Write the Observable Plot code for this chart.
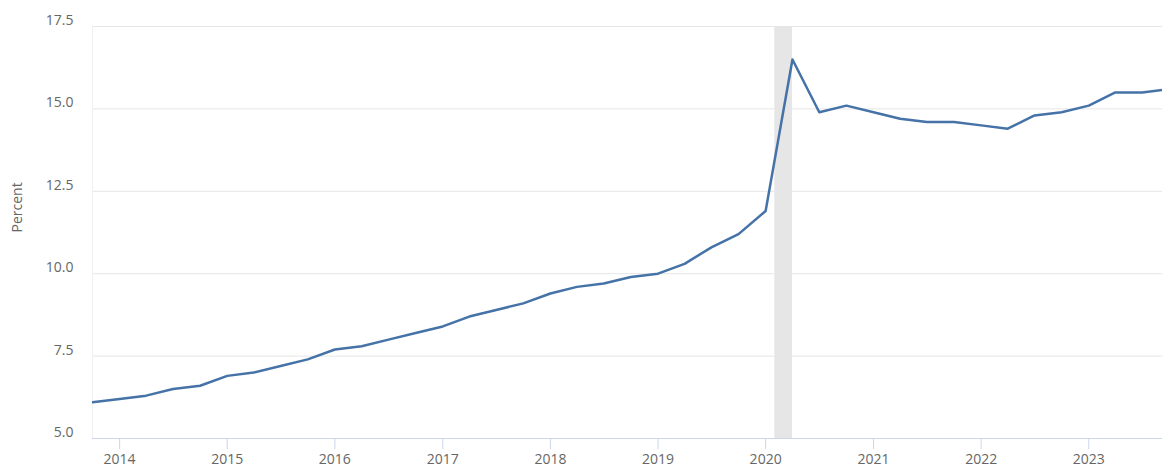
<!DOCTYPE html>
<html>
<head>
<meta charset="utf-8">
<script src="https://cdn.jsdelivr.net/npm/d3@7"></script>
<script src="https://cdn.jsdelivr.net/npm/@observablehq/plot@0.6"></script>
<style>
  html, body { margin: 0; padding: 0; background: #ffffff; }
  #chart svg { display: block; }
</style>
</head>
<body>
<div id="chart"></div>
<script>
// Quarterly observations
const quarters = [
  "2013-10-01",
  "2014-01-01","2014-04-01","2014-07-01","2014-10-01",
  "2015-01-01","2015-04-01","2015-07-01","2015-10-01",
  "2016-01-01","2016-04-01","2016-07-01","2016-10-01",
  "2017-01-01","2017-04-01","2017-07-01","2017-10-01",
  "2018-01-01","2018-04-01","2018-07-01","2018-10-01",
  "2019-01-01","2019-04-01","2019-07-01","2019-10-01",
  "2020-01-01","2020-04-01","2020-07-01","2020-10-01",
  "2021-01-01","2021-04-01","2021-07-01","2021-10-01",
  "2022-01-01","2022-04-01","2022-07-01","2022-10-01",
  "2023-01-01","2023-04-01","2023-07-01","2023-10-01"
];
const values = [
  6.1,
  6.2, 6.3, 6.5, 6.6,
  6.9, 7.0, 7.2, 7.4,
  7.7, 7.8, 8.0, 8.2,
  8.4, 8.7, 8.9, 9.1,
  9.4, 9.6, 9.7, 9.9,
  10.0, 10.3, 10.8, 11.2,
  11.9, 16.5, 14.9, 15.1,
  14.9, 14.7, 14.6, 14.6,
  14.5, 14.4, 14.8, 14.9,
  15.1, 15.5, 15.5, 15.6
];
// Recession period (shaded)
const recessionStart = ["2020-02-01"];
const recessionEnd = ["2020-04-01"];
// Axis ticks
const yTicks = [5.0, 7.5, 10.0, 12.5, 15.0, 17.5];
const xTickYears = [2014, 2015, 2016, 2017, 2018, 2019, 2020, 2021, 2022, 2023];
const xDomain = ["2013-10-01", "2023-09-08"];
const yLabel = "Percent";

const data = quarters.map((q, i) => ({date: new Date(q), value: values[i]}));
const recessions = recessionStart.map((s, i) => ({start: new Date(s), end: new Date(recessionEnd[i])}));
const xTicks = xTickYears.map(y => new Date(Date.UTC(y, 0, 1)));

const chart = Plot.plot({
  width: 1162,
  height: 468,
  marginLeft: 92,
  marginRight: 0,
  marginTop: 26,
  marginBottom: 30,
  style: {fontFamily: "'Open Sans', sans-serif", fontSize: "14px", color: "#666666", background: "#ffffff"},
  x: {type: "utc", domain: xDomain.map(d => new Date(d))},
  y: {domain: [5, 17.5]},
  marks: [
    Plot.rect(recessions, {x1: "start", x2: "end", fill: "#e6e6e6"}),
    Plot.gridY(yTicks.filter(d => d > 5), {stroke: "#e6e6e6", strokeOpacity: 1}),
    Plot.ruleX([new Date(xDomain[0])], {stroke: "#f0f0f0"}),
    Plot.ruleY([5], {stroke: "#ccd6eb"}),
    Plot.axisX(xTicks, {tickSize: 11, tickPadding: 5, stroke: "#ccd6eb", fill: "#666666", fontSize: 14, tickFormat: d3.utcFormat("%Y"), label: null}),
    Plot.axisY(yTicks, {tickSize: 0, tickPadding: 19, dy: -6, fill: "#666666", fontSize: 14, tickFormat: d => d.toFixed(1), label: null}),
    Plot.text([yLabel], {frameAnchor: "left", rotate: -90, dx: -75, fill: "#666666", fontSize: 14}),
    Plot.lineY(data, {x: "date", y: "value", stroke: "#4572a7", strokeWidth: 2.5, clip: true})
  ]
});
document.getElementById("chart").appendChild(chart);
</script>
</body>
</html>
